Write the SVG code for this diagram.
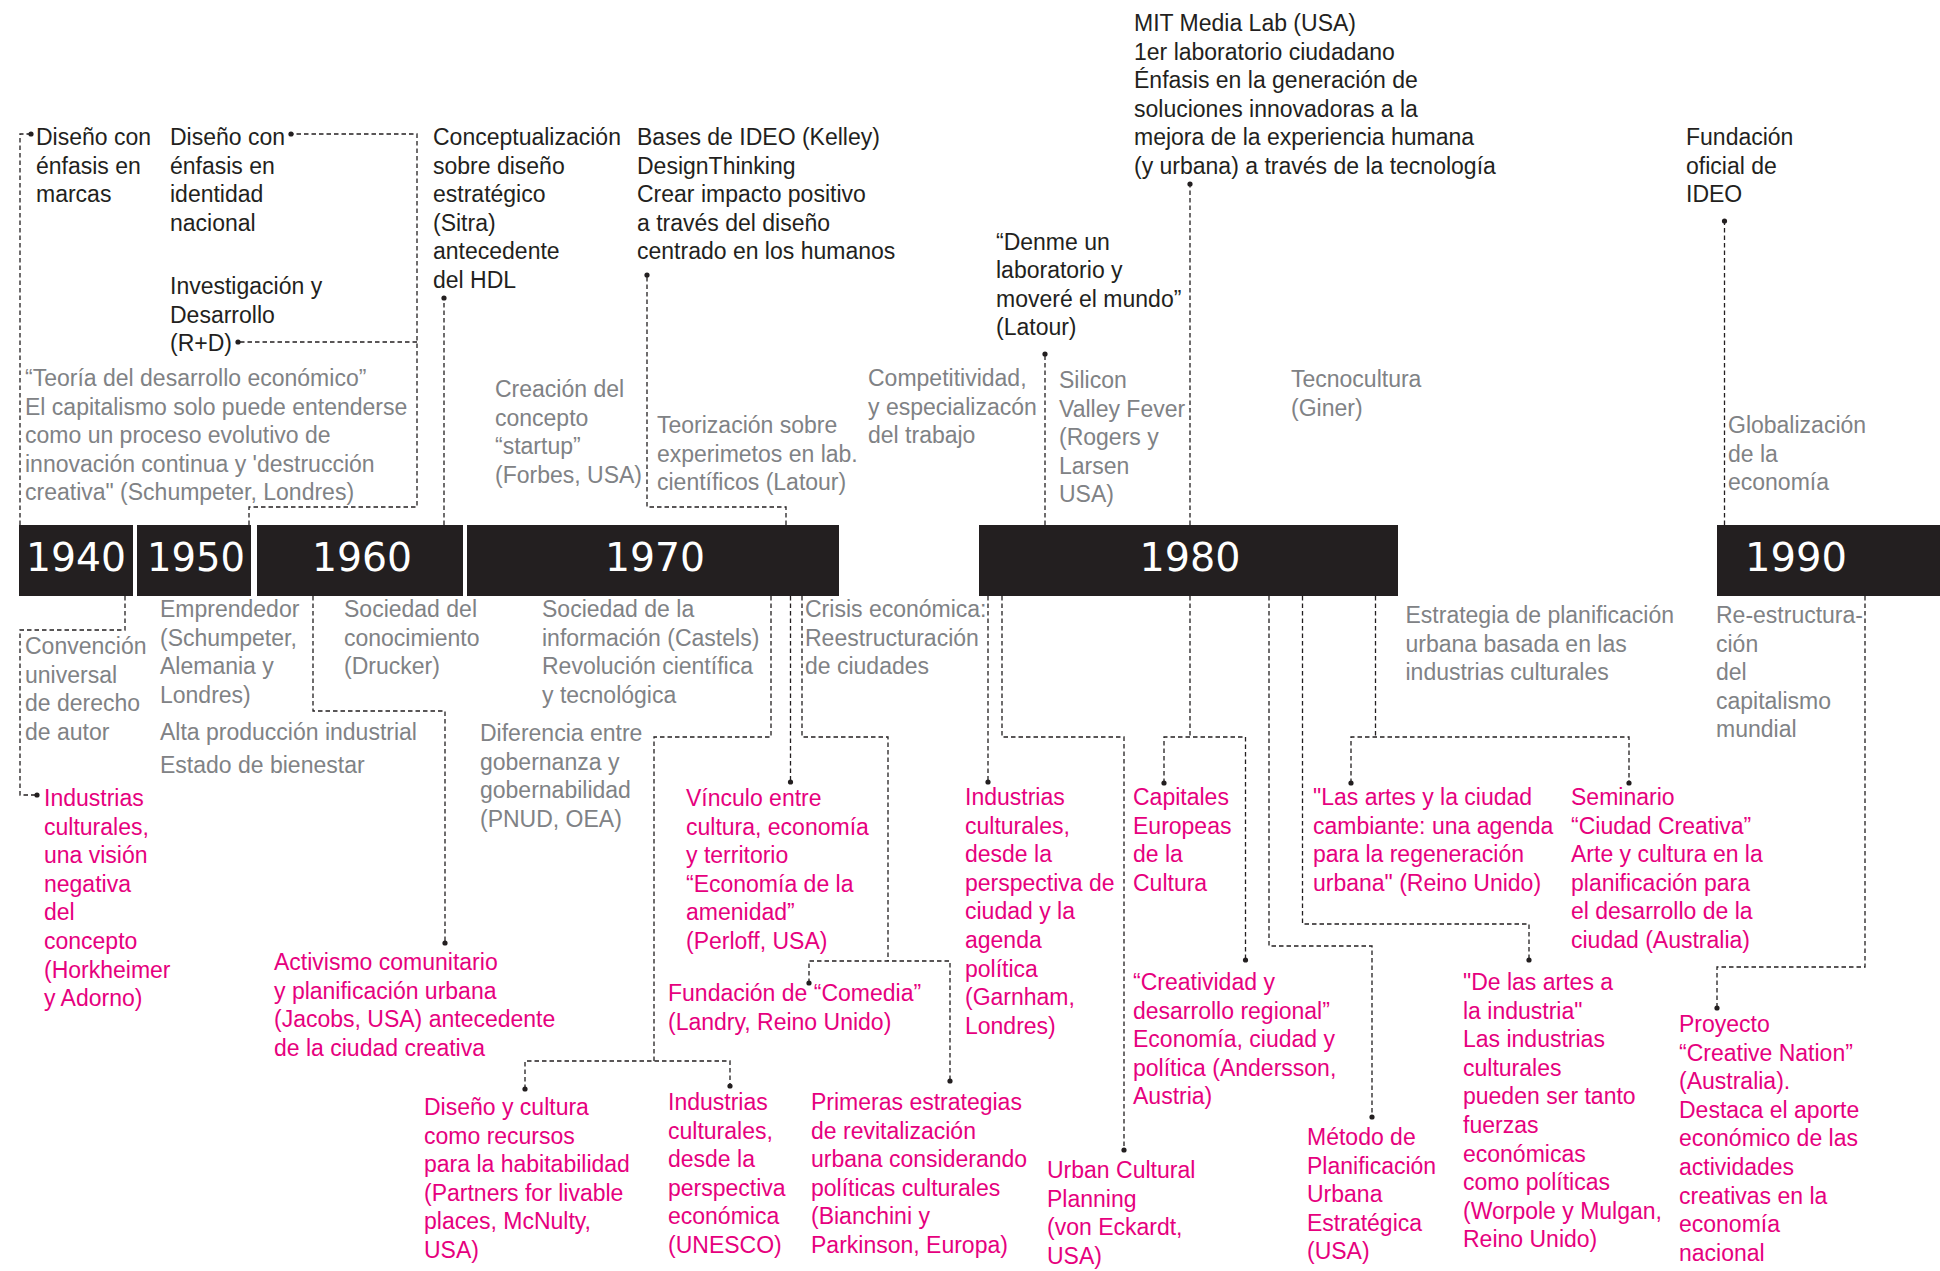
<svg xmlns="http://www.w3.org/2000/svg" xmlns:xlink="http://www.w3.org/1999/xlink" width="1940" height="1271" viewBox="0 0 1940 1271">
  <style>
    text { font-family: "Liberation Sans", Arial, sans-serif; font-size: 23px; }
    .k { fill: #231f20; }
    .g { fill: #808285; }
    .m { fill: #e6007e; }
    .yr { font-family: "DejaVu Sans", "Liberation Sans", sans-serif; font-size: 39px; fill: #ffffff; text-anchor: middle; }
    .bar { fill: #231f20; }
    .c { fill: none; stroke: #231f20; stroke-width: 1.3; stroke-dasharray: 4.5 3; }
    .dot { fill: #231f20; }
  </style>
  <defs>
    <circle id="dot" r="2.6" class="dot"/>
  </defs>
  <rect width="1940" height="1271" fill="#ffffff"/>

  <!-- decade bars -->
  <g id="decades">
    <g id="y1940"><rect class="bar" x="19" y="525" width="114" height="71"/><text class="yr" x="76" y="571" textLength="100" lengthAdjust="spacingAndGlyphs">1940</text></g>
    <g id="y1950"><rect class="bar" x="137" y="525" width="114" height="71"/><text class="yr" x="196" y="571" textLength="98" lengthAdjust="spacingAndGlyphs">1950</text></g>
    <g id="y1960"><rect class="bar" x="257" y="525" width="206" height="71"/><text class="yr" x="362" y="571" textLength="100" lengthAdjust="spacingAndGlyphs">1960</text></g>
    <g id="y1970"><rect class="bar" x="467" y="525" width="372" height="71"/><text class="yr" x="655" y="571" textLength="100" lengthAdjust="spacingAndGlyphs">1970</text></g>
    <g id="y1980"><rect class="bar" x="979" y="525" width="419" height="71"/><text class="yr" x="1190" y="571" textLength="101" lengthAdjust="spacingAndGlyphs">1980</text></g>
    <g id="y1990"><rect class="bar" x="1717" y="525" width="223" height="71"/><text class="yr" x="1796" y="571" textLength="102" lengthAdjust="spacingAndGlyphs">1990</text></g>
  </g>

  <!-- dashed connectors with end dots -->
  <g id="connectors">
    <path class="c" d="M20,525 V134 H29"/>
    <path class="c" d="M249,525 V507 H417 V134 H293"/>
    <path class="c" d="M417,342 H240"/>
    <path class="c" d="M444,525 V298"/>
    <path class="c" d="M786,525 V507 H647 V275"/>
    <path class="c" d="M1045,525 V354"/>
    <path class="c" d="M1190,525 V184"/>
    <path class="c" d="M1724.5,525 V221"/>

    <path class="c" d="M125,596 V630 H20 V795 H35"/>
    <path class="c" d="M313,596 V711 H445 V943"/>
    <path class="c" d="M771,596 V737 H654 V1061"/>
    <path class="c" d="M525,1089 V1061 H730 V1086"/>
    <path class="c" d="M790.5,596 V782"/>
    <path class="c" d="M802,596 V737 H888 V961"/>
    <path class="c" d="M809,983 V961 H950 V1081"/>
    <path class="c" d="M988,596 V782"/>
    <path class="c" d="M1002,596 V737 H1124 V1150"/>
    <path class="c" d="M1190,596 V737"/>
    <path class="c" d="M1164,783 V737 H1245.5 V960"/>
    <path class="c" d="M1269,596 V946 H1372 V1117"/>
    <path class="c" d="M1302.5,596 V924 H1529 V960"/>
    <path class="c" d="M1375.5,596 V737"/>
    <path class="c" d="M1351,783 V737 H1629 V783"/>
    <path class="c" d="M1865,596 V967 H1717 V1008"/>

    <use xlink:href="#dot" x="31" y="134"/>
    <use xlink:href="#dot" x="291" y="134"/>
    <use xlink:href="#dot" x="238" y="342"/>
    <use xlink:href="#dot" x="444" y="298"/>
    <use xlink:href="#dot" x="647" y="275"/>
    <use xlink:href="#dot" x="1045" y="354"/>
    <use xlink:href="#dot" x="1190" y="184"/>
    <use xlink:href="#dot" x="1724.5" y="221"/>
    <use xlink:href="#dot" x="37" y="795"/>
    <use xlink:href="#dot" x="445" y="943"/>
    <use xlink:href="#dot" x="525" y="1089"/>
    <use xlink:href="#dot" x="730" y="1086"/>
    <use xlink:href="#dot" x="790.5" y="782"/>
    <use xlink:href="#dot" x="809" y="983"/>
    <use xlink:href="#dot" x="950" y="1081"/>
    <use xlink:href="#dot" x="988" y="782"/>
    <use xlink:href="#dot" x="1124" y="1150"/>
    <use xlink:href="#dot" x="1164" y="783"/>
    <use xlink:href="#dot" x="1245.5" y="960"/>
    <use xlink:href="#dot" x="1372" y="1117"/>
    <use xlink:href="#dot" x="1529" y="960"/>
    <use xlink:href="#dot" x="1351" y="783"/>
    <use xlink:href="#dot" x="1629" y="783"/>
    <use xlink:href="#dot" x="1717" y="1008"/>
  </g>

  <!-- events above the timeline -->
  <g id="n-marcas"><text class="k" x="36" y="145">Diseño con<tspan x="36" dy="28.6">énfasis en</tspan><tspan x="36" dy="28.6">marcas</tspan></text></g>
  <g id="n-identidad"><text class="k" x="170" y="145">Diseño con<tspan x="170" dy="28.6">énfasis en</tspan><tspan x="170" dy="28.6">identidad</tspan><tspan x="170" dy="28.6">nacional</tspan></text></g>
  <g id="n-rd"><text class="k" x="170" y="294">Investigación y<tspan x="170" dy="28.6">Desarrollo</tspan><tspan x="170" dy="28.6">(R+D)</tspan></text></g>
  <g id="n-sitra"><text class="k" x="433" y="145">Conceptualización<tspan x="433" dy="28.6">sobre diseño</tspan><tspan x="433" dy="28.6">estratégico</tspan><tspan x="433" dy="28.6">(Sitra)</tspan><tspan x="433" dy="28.6">antecedente</tspan><tspan x="433" dy="28.6">del HDL</tspan></text></g>
  <g id="n-ideo-bases"><text class="k" x="637" y="145">Bases de IDEO (Kelley)<tspan x="637" dy="28.6">DesignThinking</tspan><tspan x="637" dy="28.6">Crear impacto positivo</tspan><tspan x="637" dy="28.6">a través del diseño</tspan><tspan x="637" dy="28.6">centrado en los humanos</tspan></text></g>
  <g id="n-mit"><text class="k" x="1134" y="31">MIT Media Lab (USA)<tspan x="1134" dy="28.6">1er laboratorio ciudadano</tspan><tspan x="1134" dy="28.6">Énfasis en la generación de</tspan><tspan x="1134" dy="28.6">soluciones innovadoras a la</tspan><tspan x="1134" dy="28.6">mejora de la experiencia humana</tspan><tspan x="1134" dy="28.6">(y urbana) a través de la tecnología</tspan></text></g>
  <g id="n-latour-quote"><text class="k" x="996" y="249.5">“Denme un<tspan x="996" dy="28.6">laboratorio y</tspan><tspan x="996" dy="28.6">moveré el mundo”</tspan><tspan x="996" dy="28.6">(Latour)</tspan></text></g>
  <g id="n-ideo-fund"><text class="k" x="1686" y="145">Fundación<tspan x="1686" dy="28.6">oficial de</tspan><tspan x="1686" dy="28.6">IDEO</tspan></text></g>

  <g id="n-schumpeter"><text class="g" x="25" y="386">“Teoría del desarrollo económico”<tspan x="25" dy="28.6">El capitalismo solo puede entenderse</tspan><tspan x="25" dy="28.6">como un proceso evolutivo de</tspan><tspan x="25" dy="28.6">innovación continua y 'destrucción</tspan><tspan x="25" dy="28.6">creativa" (Schumpeter, Londres)</tspan></text></g>
  <g id="n-startup"><text class="g" x="495" y="397">Creación del<tspan x="495" dy="28.6">concepto</tspan><tspan x="495" dy="28.6">“startup”</tspan><tspan x="495" dy="28.6">(Forbes, USA)</tspan></text></g>
  <g id="n-lab"><text class="g" x="657" y="433">Teorización sobre<tspan x="657" dy="28.6">experimetos en lab.</tspan><tspan x="657" dy="28.6">científicos (Latour)</tspan></text></g>
  <g id="n-compet"><text class="g" x="868" y="386">Competitividad,<tspan x="868" dy="28.6">y especializacón</tspan><tspan x="868" dy="28.6">del trabajo</tspan></text></g>
  <g id="n-silicon"><text class="g" x="1059" y="388">Silicon<tspan x="1059" dy="28.6">Valley Fever</tspan><tspan x="1059" dy="28.6">(Rogers y</tspan><tspan x="1059" dy="28.6">Larsen</tspan><tspan x="1059" dy="28.6">USA)</tspan></text></g>
  <g id="n-tecno"><text class="g" x="1291" y="387">Tecnocultura<tspan x="1291" dy="28.6">(Giner)</tspan></text></g>
  <g id="n-global"><text class="g" x="1728" y="433">Globalización<tspan x="1728" dy="28.6">de la</tspan><tspan x="1728" dy="28.6">economía</tspan></text></g>

  <!-- events below the timeline -->
  <g id="n-convencion"><text class="g" x="25" y="654">Convención<tspan x="25" dy="28.6">universal</tspan><tspan x="25" dy="28.6">de derecho</tspan><tspan x="25" dy="28.6">de autor</tspan></text></g>
  <g id="n-horkheimer"><text class="m" x="44" y="806">Industrias<tspan x="44" dy="28.6">culturales,</tspan><tspan x="44" dy="28.6">una visión</tspan><tspan x="44" dy="28.6">negativa</tspan><tspan x="44" dy="28.6">del</tspan><tspan x="44" dy="28.6">concepto</tspan><tspan x="44" dy="28.6">(Horkheimer</tspan><tspan x="44" dy="28.6">y Adorno)</tspan></text></g>
  <g id="n-emprendedor"><text class="g" x="160" y="617">Emprendedor<tspan x="160" dy="28.6">(Schumpeter,</tspan><tspan x="160" dy="28.6">Alemania y</tspan><tspan x="160" dy="28.6">Londres)</tspan></text></g>
  <g id="n-alta"><text class="g" x="160" y="740">Alta producción industrial<tspan x="160" dy="33">Estado de bienestar</tspan></text></g>
  <g id="n-drucker"><text class="g" x="344" y="617">Sociedad del<tspan x="344" dy="28.6">conocimiento</tspan><tspan x="344" dy="28.6">(Drucker)</tspan></text></g>
  <g id="n-jacobs"><text class="m" x="274" y="970">Activismo comunitario<tspan x="274" dy="28.6">y planificación urbana</tspan><tspan x="274" dy="28.6">(Jacobs, USA) antecedente</tspan><tspan x="274" dy="28.6">de la ciudad creativa</tspan></text></g>
  <g id="n-castels"><text class="g" x="542" y="617">Sociedad de la<tspan x="542" dy="28.6">información (Castels)</tspan><tspan x="542" dy="28.6">Revolución científica</tspan><tspan x="542" dy="28.6">y tecnológica</tspan></text></g>
  <g id="n-gobernanza"><text class="g" x="480" y="741">Diferencia entre<tspan x="480" dy="28.6">gobernanza y</tspan><tspan x="480" dy="28.6">gobernabilidad</tspan><tspan x="480" dy="28.6">(PNUD, OEA)</tspan></text></g>
  <g id="n-crisis"><text class="g" x="805" y="617">Crisis económica:<tspan x="805" dy="28.6">Reestructuración</tspan><tspan x="805" dy="28.6">de ciudades</tspan></text></g>
  <g id="n-perloff"><text class="m" x="686" y="806">Vínculo entre<tspan x="686" dy="28.6">cultura, economía</tspan><tspan x="686" dy="28.6">y territorio</tspan><tspan x="686" dy="28.6">“Economía de la</tspan><tspan x="686" dy="28.6">amenidad”</tspan><tspan x="686" dy="28.6">(Perloff, USA)</tspan></text></g>
  <g id="n-comedia"><text class="m" x="668" y="1001">Fundación de “Comedia”<tspan x="668" dy="28.6">(Landry, Reino Unido)</tspan></text></g>
  <g id="n-mcnulty"><text class="m" x="424" y="1115">Diseño y cultura<tspan x="424" dy="28.6">como recursos</tspan><tspan x="424" dy="28.6">para la habitabilidad</tspan><tspan x="424" dy="28.6">(Partners for livable</tspan><tspan x="424" dy="28.6">places, McNulty,</tspan><tspan x="424" dy="28.6">USA)</tspan></text></g>
  <g id="n-unesco"><text class="m" x="668" y="1110">Industrias<tspan x="668" dy="28.6">culturales,</tspan><tspan x="668" dy="28.6">desde la</tspan><tspan x="668" dy="28.6">perspectiva</tspan><tspan x="668" dy="28.6">económica</tspan><tspan x="668" dy="28.6">(UNESCO)</tspan></text></g>
  <g id="n-bianchini"><text class="m" x="811" y="1110">Primeras estrategias<tspan x="811" dy="28.6">de revitalización</tspan><tspan x="811" dy="28.6">urbana considerando</tspan><tspan x="811" dy="28.6">políticas culturales</tspan><tspan x="811" dy="28.6">(Bianchini y</tspan><tspan x="811" dy="28.6">Parkinson, Europa)</tspan></text></g>
  <g id="n-garnham"><text class="m" x="965" y="805">Industrias<tspan x="965" dy="28.6">culturales,</tspan><tspan x="965" dy="28.6">desde la</tspan><tspan x="965" dy="28.6">perspectiva de</tspan><tspan x="965" dy="28.6">ciudad y la</tspan><tspan x="965" dy="28.6">agenda</tspan><tspan x="965" dy="28.6">política</tspan><tspan x="965" dy="28.6">(Garnham,</tspan><tspan x="965" dy="28.6">Londres)</tspan></text></g>
  <g id="n-capitales"><text class="m" x="1133" y="805">Capitales<tspan x="1133" dy="28.6">Europeas</tspan><tspan x="1133" dy="28.6">de la</tspan><tspan x="1133" dy="28.6">Cultura</tspan></text></g>
  <g id="n-andersson"><text class="m" x="1133" y="990">“Creatividad y<tspan x="1133" dy="28.6">desarrollo regional”</tspan><tspan x="1133" dy="28.6">Economía, ciudad y</tspan><tspan x="1133" dy="28.6">política (Andersson,</tspan><tspan x="1133" dy="28.6">Austria)</tspan></text></g>
  <g id="n-eckardt"><text class="m" x="1047" y="1178">Urban Cultural<tspan x="1047" dy="28.6">Planning</tspan><tspan x="1047" dy="28.6">(von Eckardt,</tspan><tspan x="1047" dy="28.6">USA)</tspan></text></g>
  <g id="n-artes-ciudad"><text class="m" x="1313" y="805">"Las artes y la ciudad<tspan x="1313" dy="28.6">cambiante: una agenda</tspan><tspan x="1313" dy="28.6">para la regeneración</tspan><tspan x="1313" dy="28.6">urbana" (Reino Unido)</tspan></text></g>
  <g id="n-seminario"><text class="m" x="1571" y="805">Seminario<tspan x="1571" dy="28.6">“Ciudad Creativa”</tspan><tspan x="1571" dy="28.6">Arte y cultura en la</tspan><tspan x="1571" dy="28.6">planificación para</tspan><tspan x="1571" dy="28.6">el desarrollo de la</tspan><tspan x="1571" dy="28.6">ciudad (Australia)</tspan></text></g>
  <g id="n-worpole"><text class="m" x="1463" y="990">"De las artes a<tspan x="1463" dy="28.6">la industria"</tspan><tspan x="1463" dy="28.6">Las industrias</tspan><tspan x="1463" dy="28.6">culturales</tspan><tspan x="1463" dy="28.6">pueden ser tanto</tspan><tspan x="1463" dy="28.6">fuerzas</tspan><tspan x="1463" dy="28.6">económicas</tspan><tspan x="1463" dy="28.6">como políticas</tspan><tspan x="1463" dy="28.6">(Worpole y Mulgan,</tspan><tspan x="1463" dy="28.6">Reino Unido)</tspan></text></g>
  <g id="n-metodo"><text class="m" x="1307" y="1145">Método de<tspan x="1307" dy="28.6">Planificación</tspan><tspan x="1307" dy="28.6">Urbana</tspan><tspan x="1307" dy="28.6">Estratégica</tspan><tspan x="1307" dy="28.6">(USA)</tspan></text></g>
  <g id="n-estrategia"><text class="g" x="1405.5" y="623">Estrategia de planificación<tspan x="1405.5" dy="28.6">urbana basada en las</tspan><tspan x="1405.5" dy="28.6">industrias culturales</tspan></text></g>
  <g id="n-reestructura"><text class="g" x="1716" y="623">Re-estructura-<tspan x="1716" dy="28.6">ción</tspan><tspan x="1716" dy="28.6">del</tspan><tspan x="1716" dy="28.6">capitalismo</tspan><tspan x="1716" dy="28.6">mundial</tspan></text></g>
  <g id="n-nation"><text class="m" x="1679" y="1032">Proyecto<tspan x="1679" dy="28.6">“Creative Nation”</tspan><tspan x="1679" dy="28.6">(Australia).</tspan><tspan x="1679" dy="28.6">Destaca el aporte</tspan><tspan x="1679" dy="28.6">económico de las</tspan><tspan x="1679" dy="28.6">actividades</tspan><tspan x="1679" dy="28.6">creativas en la</tspan><tspan x="1679" dy="28.6">economía</tspan><tspan x="1679" dy="28.6">nacional</tspan></text></g>
</svg>
